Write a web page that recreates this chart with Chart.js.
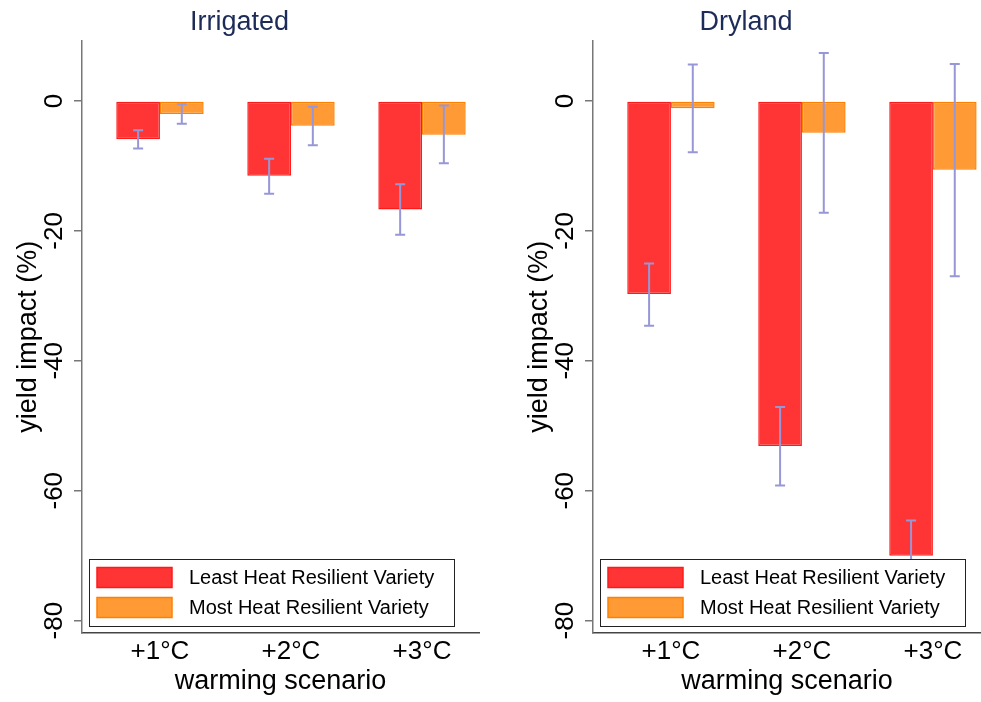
<!DOCTYPE html>
<html>
<head>
<meta charset="utf-8">
<title>yield impact</title>
<script src="https://cdn.jsdelivr.net/npm/chart.js@4.4.1/dist/chart.umd.min.js"></script>
<style>
  body { margin: 0; background: #fff; }
  #wrap { position: relative; width: 981px; height: 702px; }
  canvas { position: absolute; top: 0; }
  #irrigated { left: 0; }
  #dryland { left: 511px; }
</style>
</head>
<body>
<div id="wrap">
  <canvas id="irrigated" width="511" height="702"></canvas>
  <canvas id="dryland" width="470" height="702"></canvas>
</div>
<script>
// Datos
const categories = ['+1°C', '+2°C', '+3°C'];
const xPos = [1, 2, 3];
const seriesNames = ['Least Heat Resilient Variety', 'Most Heat Resilient Variety'];
const yTicks = [0, -20, -40, -60, -80];

const irrLeast = [-5.9, -11.5, -16.7];
const irrLeastLo = [-7.3, -14.3, -20.6];
const irrLeastHi = [-4.5, -8.9, -12.8];
const irrMost = [-2.0, -3.8, -5.2];
const irrMostLo = [-3.5, -6.8, -9.6];
const irrMostHi = [-0.5, -0.9, -0.7];

const dryLeast = [-29.7, -53.1, -70.0];
const dryLeastLo = [-34.6, -59.2, -75.4];
const dryLeastHi = [-25.0, -47.1, -64.6];
const dryMost = [-1.1, -4.9, -10.6];
const dryMostLo = [-7.9, -17.2, -27.0];
const dryMostHi = [5.6, 7.4, 5.7];

const FONT = '"Liberation Sans", Arial, Helvetica, sans-serif';
const redFill = '#ff3535';
const redLine = '#ff1a1a';
const orangeFill = '#ff9a35';
const orangeLine = '#ff8000';
const errColor = '#9797d8';

// Barras de error con las escalas del gráfico
const errorBars = {
  id: 'errorBars',
  afterDatasetsDraw(chart) {
    const ctx = chart.ctx;
    const yScale = chart.scales.y;
    chart.data.datasets.forEach((ds, i) => {
      const meta = chart.getDatasetMeta(i);
      meta.data.forEach((bar, j) => {
        const yLo = yScale.getPixelForValue(ds.errLo[j]);
        const yHi = yScale.getPixelForValue(ds.errHi[j]);
        ctx.save();
        ctx.strokeStyle = errColor;
        ctx.lineWidth = 2;
        ctx.beginPath();
        ctx.moveTo(bar.x, yLo);
        ctx.lineTo(bar.x, yHi);
        ctx.moveTo(bar.x - 5, yLo);
        ctx.lineTo(bar.x + 5, yLo);
        ctx.moveTo(bar.x - 5, yHi);
        ctx.lineTo(bar.x + 5, yHi);
        ctx.stroke();
        ctx.restore();
      });
    });
  }
};

// Etiquetas giradas del eje y y leyenda con recuadro
const extras = {
  id: 'extras',
  afterDraw(chart) {
    const ctx = chart.ctx;
    const yScale = chart.scales.y;
    const area = chart.chartArea;
    ctx.save();
    ctx.fillStyle = '#000';
    ctx.font = '26px ' + FONT;
    ctx.textAlign = 'center';
    ctx.textBaseline = 'alphabetic';
    yScale.ticks.forEach(t => {
      ctx.save();
      ctx.translate(62, yScale.getPixelForValue(t.value));
      ctx.rotate(-Math.PI / 2);
      ctx.fillText(String(t.value), 0, 0);
      ctx.restore();
    });

    const bx = area.left + 7;
    const by = 559;
    ctx.fillStyle = '#fff';
    ctx.fillRect(bx, by, 365, 67);
    ctx.strokeStyle = '#222';
    ctx.lineWidth = 1;
    ctx.strokeRect(bx + 0.5, by + 0.5, 365, 67);
    ctx.font = '20px ' + FONT;
    ctx.textAlign = 'left';
    ctx.textBaseline = 'middle';
    chart.data.datasets.forEach((ds, i) => {
      const sy = by + 8.5 + i * 30;
      ctx.fillStyle = ds.backgroundColor;
      ctx.fillRect(bx + 8, sy, 75, 20);
      ctx.strokeStyle = ds.borderColor;
      ctx.lineWidth = 1.5;
      ctx.strokeRect(bx + 8, sy, 75, 20);
      ctx.fillStyle = '#000';
      ctx.fillText(ds.label, bx + 100, sy + 11);
    });
    ctx.restore();
  }
};

function makeDataset(label, values, lo, hi, fill, line) {
  return {
    label: label,
    data: values.map((v, i) => ({ x: xPos[i], y: v })),
    errLo: lo,
    errHi: hi,
    backgroundColor: fill,
    borderColor: line,
    borderWidth: 1.5,
    borderSkipped: false,
    categoryPercentage: 0.667,
    barPercentage: 1.0
  };
}

function makeChart(canvasId, title, xMax, padRight, least, leastLo, leastHi, most, mostLo, mostHi) {
  const ctx = document.getElementById(canvasId).getContext('2d');
  return new Chart(ctx, {
    type: 'bar',
    data: {
      datasets: [
        makeDataset(seriesNames[0], least, leastLo, leastHi, redFill, redLine),
        makeDataset(seriesNames[1], most, mostLo, mostHi, orangeFill, orangeLine)
      ]
    },
    options: {
      responsive: false,
      animation: false,
      devicePixelRatio: 1,
      layout: { padding: { left: 0, right: padRight, top: 0, bottom: 0 } },
      plugins: {
        legend: { display: false },
        tooltip: { enabled: false },
        title: {
          display: true,
          text: title,
          color: '#1c2b57',
          font: { family: FONT, size: 27, weight: 'normal', lineHeight: 1.2 },
          padding: { top: 6, bottom: 2.3 }
        }
      },
      scales: {
        x: {
          type: 'linear',
          offset: false,
          min: 0.405,
          max: xMax,
          afterBuildTicks: scale => { scale.ticks = xPos.map(v => ({ value: v })); },
          afterFit: scale => { scale.height = 69; },
          grid: { display: false, drawTicks: false, offset: false },
          border: { display: true, color: '#444', width: 1.5 },
          ticks: {
            autoSkip: false,
            padding: 3,
            color: '#000',
            font: { family: FONT, size: 26 },
            callback: (v) => categories[xPos.indexOf(v)] || ''
          },
          title: {
            display: true,
            text: 'warming scenario',
            color: '#000',
            font: { family: FONT, size: 27, lineHeight: 1.2 },
            padding: { top: 0, bottom: 4 }
          }
        },
        y: {
          min: -81.9,
          max: 9.28,
          afterBuildTicks: scale => { scale.ticks = yTicks.map(v => ({ value: v })); },
          afterFit: scale => { scale.width = 82; },
          grid: { display: true, drawOnChartArea: false, drawTicks: true, tickLength: 8, color: '#777', lineWidth: 1.5 },
          border: { display: true, color: '#777', width: 1.5 },
          ticks: { display: false },
          title: {
            display: true,
            text: 'yield impact (%)',
            color: '#000',
            font: { family: FONT, size: 27, lineHeight: 1.2 },
            padding: { top: 12, bottom: 0 }
          }
        }
      }
    },
    plugins: [errorBars, extras]
  });
}

makeChart('irrigated', 'Irrigated', 3.435, 32, irrLeast, irrLeastLo, irrLeastHi, irrMost, irrMostLo, irrMostHi);
makeChart('dryland', 'Dryland', 3.367, 0, dryLeast, dryLeastLo, dryLeastHi, dryMost, dryMostLo, dryMostHi);
</script>
</body>
</html>
